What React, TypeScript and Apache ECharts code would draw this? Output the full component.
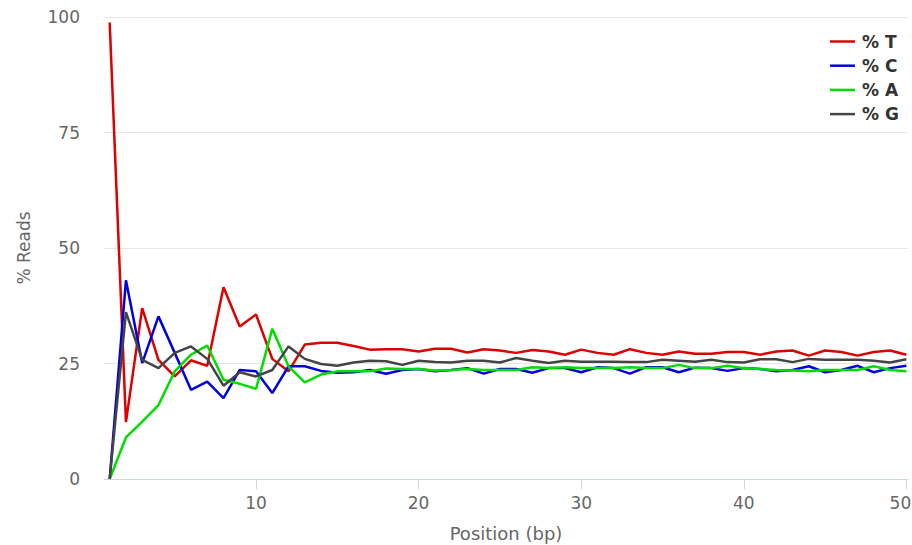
import React, { useEffect, useRef } from "react";
import * as echarts from "echarts";

const positions: number[] = Array.from({ length: 50 }, (_, i) => i + 1);
const xTickValues: number[] = [10, 20, 30, 40, 50];

const seriesNames: string[] = ["% T", "% C", "% A", "% G"];
const seriesColors: string[] = ["#dd0000", "#0000dd", "#00dd00", "#444444"];

const pctT: number[] = [
  98.8, 12.3, 37.0, 25.8, 22.2, 25.7, 24.5, 41.5, 33.0, 35.6, 26.0, 23.3, 29.1, 29.5,
  29.5, 28.8, 28.0, 28.1, 28.1, 27.6, 28.2, 28.2, 27.4, 28.1, 27.8, 27.3, 27.9, 27.6, 26.9, 28.0, 27.3,
  26.9, 28.1, 27.3, 26.9, 27.6, 27.1, 27.1, 27.5, 27.5, 26.9, 27.6, 27.8, 26.7, 27.8, 27.5, 26.7, 27.5, 27.8, 26.9,
];
const pctC: number[] = [
  0, 43.0, 25.1, 35.2, 27.3, 19.3, 21.1, 17.5, 23.6, 23.3, 18.6, 24.4, 24.4, 23.4,
  23.0, 23.1, 23.6, 22.8, 23.6, 23.8, 23.3, 23.6, 24.0, 22.8, 23.8, 23.8, 23.0, 24.0, 24.0, 23.1, 24.2,
  24.0, 22.8, 24.2, 24.2, 23.1, 24.1, 24.0, 23.4, 24.0, 23.8, 23.3, 23.6, 24.4, 23.1, 23.6, 24.5, 23.1, 24.0, 24.5,
];
const pctA: number[] = [
  0, 9.0, 12.4, 16.0, 23.3, 26.9, 28.9, 21.5, 20.6, 19.5, 32.5, 24.4, 20.9, 22.6,
  23.3, 23.3, 23.3, 23.9, 23.8, 23.8, 23.5, 23.6, 23.8, 23.6, 23.6, 23.6, 24.2, 24.0, 24.2, 24.0, 24.0,
  24.0, 24.2, 24.0, 24.0, 24.7, 24.0, 24.0, 24.5, 24.0, 23.8, 23.6, 23.5, 23.3, 23.6, 23.6, 23.6, 24.4, 23.6, 23.3,
];
const pctG: number[] = [
  0, 36.1, 25.8, 24.0, 27.3, 28.7, 26.0, 20.2, 23.1, 22.2, 23.6, 28.7, 26.0, 24.9,
  24.5, 25.2, 25.6, 25.5, 24.7, 25.6, 25.3, 25.2, 25.6, 25.6, 25.2, 26.2, 25.6, 25.1, 25.6, 25.4, 25.4,
  25.4, 25.3, 25.3, 25.8, 25.6, 25.4, 25.8, 25.3, 25.2, 25.9, 25.9, 25.3, 26.0, 25.8, 25.8, 25.8, 25.6, 25.2, 25.9,
];

const allValues: number[][] = [pctT, pctC, pctA, pctG];

const FONT = "'DejaVu Sans', 'Open Sans', sans-serif";

export default function App() {
  const ref = useRef<HTMLDivElement>(null);

  useEffect(() => {
    if (!ref.current) return;
    const chart = echarts.init(ref.current, undefined, { renderer: "svg" });
    const option = {
      animation: false,
      backgroundColor: "#ffffff",
      textStyle: { fontFamily: FONT },
      grid: { left: 104, right: 4, top: 17, bottom: 66, outerBoundsMode: "none", containLabel: false },
      legend: {
        orient: "vertical",
        left: 825,
        top: 28,
        itemWidth: 25,
        itemHeight: 14,
        itemGap: 7.2,
        data: seriesNames.map((n, i) => ({
          name: n,
          icon: "path://M0,6 L25,6 L25,8.5 L0,8.5 Z",
          itemStyle: { color: seriesColors[i] },
        })),
        textStyle: {
          fontFamily: FONT,
          fontSize: 17,
          lineHeight: 17,
          fontWeight: "bold",
          color: "#333333",
          padding: [0, 0, 0, 2],
        },
      },
      xAxis: {
        type: "value",
        min: 0.65,
        max: 50.1,
        name: "Position (bp)",
        nameLocation: "middle",
        nameGap: 45,
        nameTextStyle: { fontFamily: FONT, fontSize: 18, color: "#666666" },
        splitLine: { show: false },
        axisLine: { show: true, lineStyle: { color: "#ccd6eb", width: 1 } },
        axisTick: { show: true, customValues: xTickValues, length: 10, lineStyle: { color: "#ccd6eb" } },
        axisLabel: {
          customValues: xTickValues,
          margin: 15,
          fontFamily: FONT,
          fontSize: 17,
          color: "#666666",
          formatter: (v: number) => (v === 50 ? "{last|" + v + "}" : String(v)),
          rich: {
            last: { fontFamily: FONT, fontSize: 17, color: "#666666", padding: [0, 12, 0, 0] },
          },
        },
      },
      yAxis: {
        type: "value",
        min: 0,
        max: 100,
        interval: 25,
        name: "% Reads",
        nameLocation: "middle",
        nameGap: 72,
        nameTextStyle: { fontFamily: FONT, fontSize: 17, color: "#666666" },
        axisLine: { show: false },
        axisTick: { show: false },
        axisLabel: { margin: 24, fontFamily: FONT, fontSize: 17, color: "#666666" },
        splitLine: { show: true, lineStyle: { color: "#e6e6e6", width: 1 } },
      },
      series: seriesNames.map((n, i) => ({
        name: n,
        type: "line",
        data: positions.map((p, j) => [p, allValues[i][j]]),
        showSymbol: false,
        symbol: "none",
        lineStyle: { color: seriesColors[i], width: 2.5 },
        itemStyle: { color: seriesColors[i] },
        emphasis: { disabled: true },
      })),
    };
    chart.setOption(option as any);
    return () => chart.dispose();
  }, []);

  return <div ref={ref} style={{ width: 912, height: 545, position: "absolute", left: 0, top: 0 }} />;
}
